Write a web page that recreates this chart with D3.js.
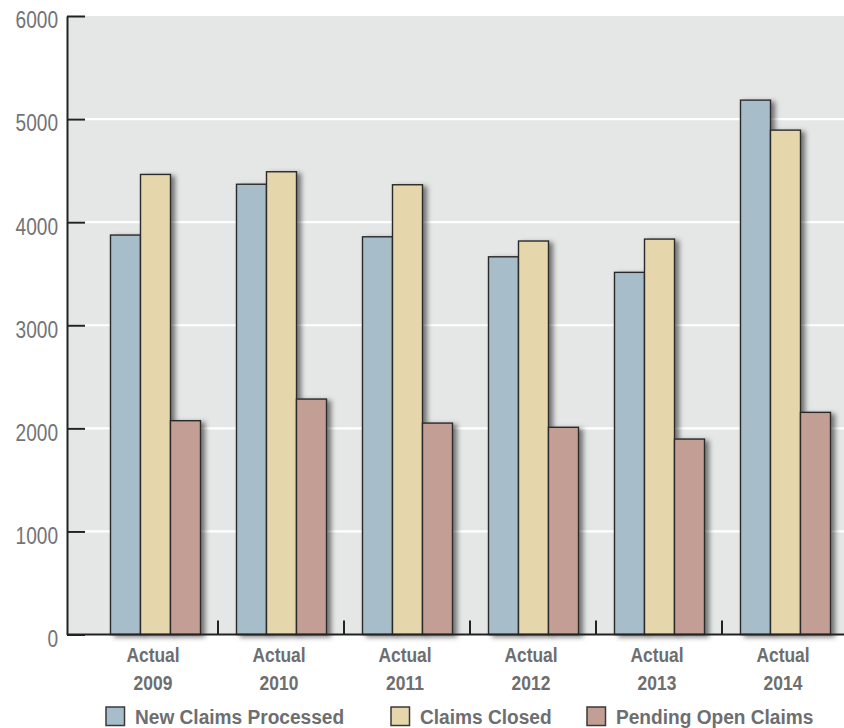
<!DOCTYPE html>
<html>
<head>
<meta charset="utf-8">
<script src="https://cdn.jsdelivr.net/npm/d3@7"></script>
<style>
  html, body { margin: 0; padding: 0; background: #ffffff; }
  svg { display: block; }
  .narrow { font-family: "Liberation Sans", Arial, sans-serif; }
</style>
</head>
<body>
<svg id="chart" width="844" height="728"></svg>
<script>
const categories = ["2009", "2010", "2011", "2012", "2013", "2014"];
const categoryPrefix = "Actual";
const seriesNames = ["New Claims Processed", "Claims Closed", "Pending Open Claims"];
const newClaimsProcessed = [3875, 4368, 3858, 3664, 3513, 5184];
const claimsClosed = [4463, 4489, 4363, 3817, 3836, 4893];
const pendingOpenClaims = [2074, 2284, 2051, 2010, 1896, 2155];
const yTicks = [0, 1000, 2000, 3000, 4000, 5000, 6000];
const seriesColors = ["#a7bdc9", "#e5d6ab", "#c29e95"];

const seriesValues = [newClaimsProcessed, claimsClosed, pendingOpenClaims];
const SX = 0.83;      // horizontal condensing of the axis fonts
const SX_LEG = 0.91;  // legend font condensing

const svg = d3.select("#chart");
const plotLeft = 67, plotTop = 16, plotBottom = 634.5, plotRight = 844;

const defs = svg.append("defs");
const f = defs.append("filter").attr("id", "shadow")
  .attr("x", "-30%").attr("y", "-10%").attr("width", "180%").attr("height", "130%");
f.append("feDropShadow").attr("dx", 4).attr("dy", 2).attr("stdDeviation", 2.8)
  .attr("flood-color", "#000").attr("flood-opacity", 0.5);

const y = d3.scaleLinear().domain([0, 6000]).range([plotBottom, plotTop]);
const x = d3.scaleBand().domain(categories).range([92, 92 + 126 * categories.length]);
const xi = d3.scaleBand().domain(seriesNames).range([18, 108]);

// plot background
svg.append("rect").attr("x", plotLeft).attr("y", plotTop)
  .attr("width", plotRight - plotLeft).attr("height", plotBottom - plotTop)
  .attr("fill", "#e5e6e6");

// gridlines
svg.append("g").selectAll("line").data(yTicks.filter(t => t > 0 && t < 6000)).join("line")
  .attr("x1", plotLeft).attr("x2", plotRight)
  .attr("y1", d => y(d)).attr("y2", d => y(d))
  .attr("stroke", "#ffffff").attr("stroke-width", 2.2);

// bars
const groups = svg.append("g").selectAll("g").data(categories).join("g")
  .attr("transform", d => `translate(${x(d)},0)`);
seriesNames.forEach((s, si) => {
  groups.append("rect")
    .attr("x", xi(s) + 0.5)
    .attr("width", xi.bandwidth())
    .attr("y", (d, i) => y(seriesValues[si][i]))
    .attr("height", (d, i) => y(0) - y(seriesValues[si][i]))
    .attr("fill", seriesColors[si])
    .attr("stroke", "#2b2b2b").attr("stroke-width", 1.4)
    .attr("filter", "url(#shadow)");
});

// y axis
const yAxis = d3.axisLeft(y).tickValues(yTicks).tickSizeInner(-18).tickSizeOuter(0).tickPadding(9)
  .tickFormat(d3.format("d"));
const gy = svg.append("g").attr("transform", `translate(${plotLeft},0)`).call(yAxis);
gy.select(".domain").attr("stroke", "#222").attr("stroke-width", 2);
gy.selectAll(".tick line").attr("stroke", "#222").attr("stroke-width", 2);
gy.selectAll(".tick text")
  .attr("class", "narrow")
  .attr("font-size", 23).attr("fill", "#727476")
  .attr("x", 0)
  .attr("dy", "0.32em")
  .attr("transform", `translate(-9,4.5) scale(${SX},1)`);

// x axis line
svg.append("line").attr("x1", plotLeft).attr("x2", plotRight)
  .attr("y1", plotBottom).attr("y2", plotBottom)
  .attr("stroke", "#222").attr("stroke-width", 2);

// category separator ticks
svg.append("g").selectAll("line").data(categories.slice(1)).join("line")
  .attr("x1", d => x(d)).attr("x2", d => x(d))
  .attr("y1", plotBottom - 14).attr("y2", plotBottom)
  .attr("stroke", "#222").attr("stroke-width", 2);

// category labels
const lbl = svg.append("g").selectAll("text").data(categories).join("text")
  .attr("class", "narrow")
  .attr("text-anchor", "middle")
  .attr("font-size", 21).attr("font-weight", "bold").attr("fill", "#6d6e70")
  .attr("transform", d => `translate(${x(d) + x.bandwidth() / 2 - 2},0) scale(${SX},1)`);
lbl.append("tspan").attr("x", 0).attr("y", 662).text(categoryPrefix);
lbl.append("tspan").attr("x", 0).attr("y", 690).text(d => d);

// legend
const legendX = [106, 391, 587];
const lg = svg.append("g").selectAll("g").data(seriesNames).join("g")
  .attr("transform", (d, i) => `translate(${legendX[i]},707)`);
lg.append("rect").attr("width", 18.5).attr("height", 18.5)
  .attr("fill", (d, i) => seriesColors[i])
  .attr("stroke", "#3a3a3a").attr("stroke-width", 1.5);
lg.append("text").attr("class", "narrow")
  .attr("transform", `translate(29,16.5) scale(${SX_LEG},1)`)
  .attr("font-size", 21).attr("font-weight", "bold").attr("fill", "#6d6e70")
  .text(d => d);
</script>
</body>
</html>
